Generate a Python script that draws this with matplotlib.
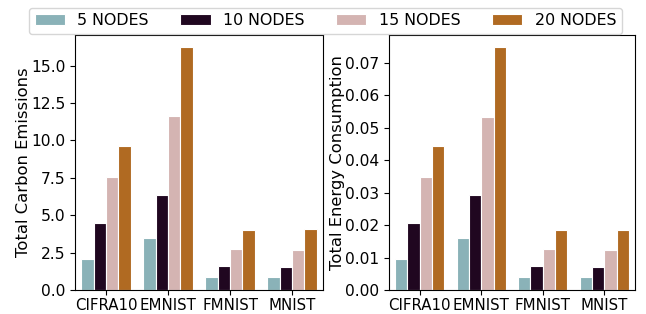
import matplotlib
matplotlib.use("Agg")
import matplotlib.pyplot as plt
from matplotlib.ticker import MultipleLocator
import numpy as np

datasets = ["CIFRA10", "EMNIST", "FMNIST", "MNIST"]
series = ["5 NODES", "10 NODES", "15 NODES", "20 NODES"]
colors = ["#8ab2b8", "#200720", "#d4b4b2", "#b06a22"]

carbon_5 = [2.1, 3.47, 0.9, 0.85]
carbon_10 = [4.5, 6.38, 1.61, 1.57]
carbon_15 = [7.52, 11.6, 2.75, 2.69]
carbon_20 = [9.62, 16.23, 4.03, 4.05]

energy_5 = [0.0097, 0.0161, 0.0041, 0.0039]
energy_10 = [0.0206, 0.0293, 0.0074, 0.0072]
energy_15 = [0.0347, 0.0534, 0.0127, 0.0124]
energy_20 = [0.0443, 0.0748, 0.0185, 0.0186]

carbon = [carbon_5, carbon_10, carbon_15, carbon_20]
energy = [energy_5, energy_10, energy_15, energy_20]

fig = plt.figure(figsize=(6.46, 3.14), dpi=100)
ax1 = fig.add_axes([75/646, 1-290/314, 248/646, 255/314])
ax2 = fig.add_axes([389/646, 1-290/314, 246/646, 255/314])

x = np.arange(len(datasets))
w = 0.8 / 4
for ax, data, ylabel, step in [(ax1, carbon, "Total Carbon Emissions", 2.5),
                               (ax2, energy, "Total Energy Consumption", 0.01)]:
    for i, (vals, c, lab) in enumerate(zip(data, colors, series)):
        ax.bar(x - 0.4 + w * (i + 0.5), vals, width=w, color=c,
               edgecolor="white", linewidth=0.8, label=lab)
    ax.set_xticks(x)
    ax.set_xticklabels(datasets, fontsize=10.8)
    ax.tick_params(axis="y", labelsize=11.2)
    ax.tick_params(axis="x", pad=2)
    ax.yaxis.set_major_locator(MultipleLocator(step))
    ax.set_ylabel(ylabel, fontsize=11.8, labelpad=0)
    ax.set_xlim(-0.5, 3.5)
    ymax = max(max(v) for v in data)
    ax.set_ylim(0, ymax * 1.05)

ax1.yaxis.set_major_formatter(matplotlib.ticker.FormatStrFormatter("%.1f"))
ax2.yaxis.set_major_formatter(matplotlib.ticker.FormatStrFormatter("%.2f"))

handles, labels = ax1.get_legend_handles_labels()
fig.legend(handles, labels, loc="upper center", ncol=4, fontsize=11.4,
           bbox_to_anchor=(0.504, 1.0), frameon=True, handlelength=1.9,
           handletextpad=0.8, columnspacing=2.0, borderpad=0.35)

fig.savefig("out.png", dpi=100)
